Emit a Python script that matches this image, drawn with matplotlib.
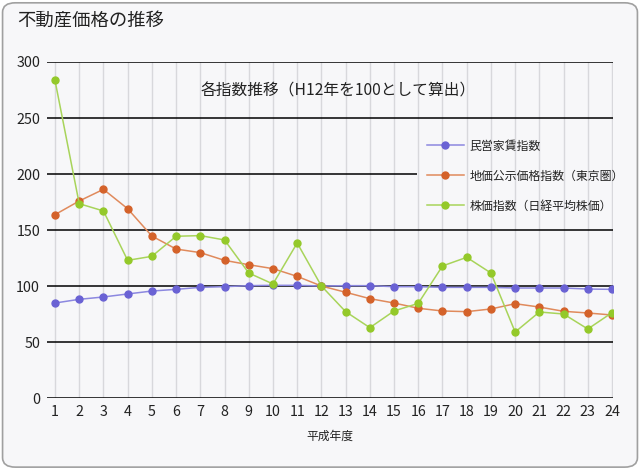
import matplotlib

matplotlib.use("Agg")

import matplotlib.pyplot as plt
from matplotlib.patches import FancyBboxPatch

plt.rcParams["font.family"] = ["Noto Sans CJK JP", "DejaVu Sans"]

YEARS = list(range(1, 25))

RENT = [84.8, 88.1, 90.2, 92.9, 95.5, 97.0, 98.8, 99.4, 100.3, 100.6, 100.6, 100.0,
        100.3, 100.3, 99.4, 99.4, 98.8, 98.8, 98.8, 98.2, 98.2, 98.2, 97.3, 97.0]
LAND = [163.7, 175.9, 186.3, 169.0, 144.6, 133.0, 129.8, 122.9, 119.0, 115.5, 108.6, 100.0,
        94.4, 88.7, 84.8, 80.1, 77.7, 77.1, 79.5, 84.2, 81.2, 77.4, 75.9, 74.1]
STOCK = [283.6, 173.5, 167.0, 122.9, 126.5, 144.4, 145.0, 141.1, 111.6, 101.8, 138.4, 100.0,
         77.1, 62.8, 77.7, 84.5, 117.9, 125.6, 111.6, 58.9, 76.8, 75.0, 61.6, 76.2]

SERIES = [
    ("民営家賃指数", RENT, "#8c88e0", "#6a62d4"),
    ("地価公示価格指数（東京圏）", LAND, "#e08a5c", "#d4622a"),
    ("株価指数（日経平均株価）", STOCK, "#a8d45a", "#94c92a"),
]

BG = "#f7f7f9"

fig = plt.figure(figsize=(6.4, 4.69), dpi=100)
fig.patch.set_facecolor("white")
frame = FancyBboxPatch((0.004, 0.004), 0.992, 0.99,
                       boxstyle="round,pad=0,rounding_size=0.02",
                       transform=fig.transFigure, facecolor=BG,
                       edgecolor="#a0a0a0", linewidth=1.2, zorder=-10)
fig.patches.append(frame)

fig.text(17 / 640, 1 - 21 / 469, "不動産価格の推移", fontsize=13.2,
         ha="left", va="center", color="#222222")

ax = fig.add_axes([47 / 640, 1 - 398 / 469, 566 / 640, 336 / 469])
ax.patch.set_alpha(0)

for x in YEARS:
    ax.axvline(x, color="#d8d8dc", linewidth=1, zorder=0.5)
for y in range(0, 301, 50):
    ax.axhline(y, color="black", linewidth=1.1, zorder=1)

for label, values, lc, mc in SERIES:
    ax.plot(YEARS, values, color=lc, linewidth=1.1, marker="o", markersize=5,
            markerfacecolor=mc, markeredgecolor=mc, label=label, zorder=3)

ax.set_xlim(0.67, 24.04)
ax.set_ylim(0, 300)
ax.set_xticks(YEARS)
ax.set_yticks(range(0, 301, 50))
for s in ax.spines.values():
    s.set_visible(False)
ax.tick_params(length=0, labelsize=10.3, colors="#222222")
ax.tick_params(axis="y", pad=5)
ax.tick_params(axis="x", pad=5)
ax.set_xlabel("平成年度", fontsize=8.5, color="#222222", labelpad=8)

ax.text(0.514, 0.915, "各指数推移（H12年を100として算出）", transform=ax.transAxes,
        ha="center", va="center", fontsize=11.3, color="#222222")

legend_kw = dict(loc="upper left", bbox_to_anchor=(417 / 640, 1 - 130 / 469),
                 bbox_transform=fig.transFigure, fontsize=8.6,
                 handlelength=3.1, handletextpad=0.5, labelspacing=1.42,
                 borderpad=0.8, borderaxespad=0, fancybox=False)

# legend background: hides the horizontal rule behind the legend
back = ax.legend(frameon=True, **legend_kw)
back.get_frame().set_facecolor(BG)
back.get_frame().set_edgecolor("none")
back.get_frame().set_alpha(1)
for t in back.get_texts():
    t.set_alpha(0)
for h in back.legend_handles:
    h.set_alpha(0)
back.set_zorder(1.5)
ax.add_artist(back)

# grid columns stay visible inside the legend box
for x in YEARS:
    vl = ax.axvline(x, color="#d8d8dc", linewidth=1, zorder=1.6)
    vl.set_clip_path(back.get_frame())

leg = ax.legend(frameon=False, **legend_kw)
leg.set_zorder(5)
for t in leg.get_texts():
    t.set_color("#222222")

fig.savefig("out.png", dpi=100, facecolor=fig.get_facecolor())
